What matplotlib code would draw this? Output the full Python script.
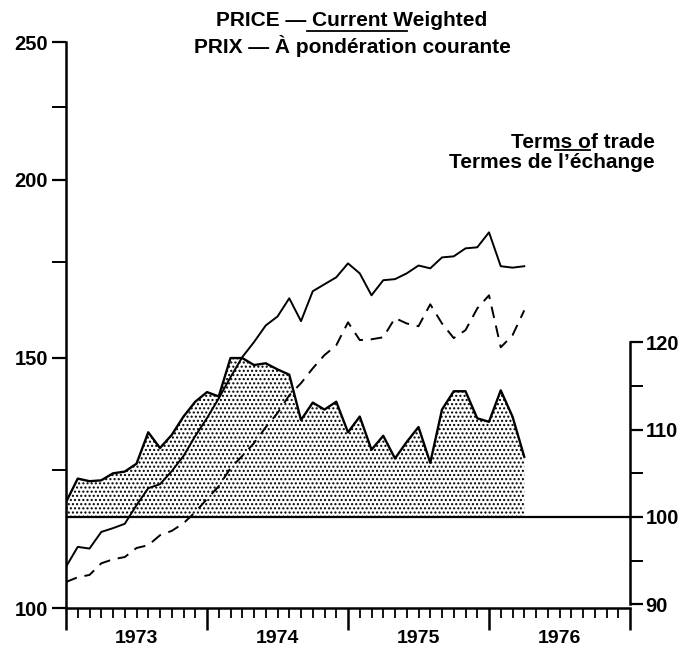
import matplotlib.pyplot as plt
import numpy as np
from matplotlib.ticker import FixedLocator, NullFormatter, FuncFormatter
from matplotlib.lines import Line2D

# monthly, Jan 1973 - Apr 1976
start_year = 1973
n_months = 40

# price index, current weighted (left, log scale)
price_solid = [106.9, 110.4, 110.1, 113.1, 113.8, 114.6, 118.1, 121.4, 122.2, 124.8,
               127.9, 132.1, 136.0, 140.4, 145.3, 150.1, 153.8, 158.0, 160.3, 165.1,
               159.1, 167.0, 168.9, 170.8, 174.7, 171.9, 165.9, 170.0, 170.3, 171.9,
               174.1, 173.3, 176.4, 176.7, 179.0, 179.3, 183.7, 173.9, 173.5, 173.9]

# second price series (dashed)
price_dashed = [104.3, 105.1, 105.5, 107.5, 108.2, 108.6, 110.2, 110.7, 112.5, 113.3,
                114.7, 116.8, 119.3, 121.8, 125.4, 127.9, 130.6, 134.0, 137.1, 141.1,
                143.9, 147.4, 150.6, 153.0, 158.8, 154.3, 154.5, 155.0, 159.9, 158.5,
                157.8, 163.5, 158.5, 154.8, 156.8, 162.4, 165.9, 152.5, 155.5, 161.9]

# terms of trade (right axis)
terms_of_trade = [101.7, 104.4, 104.1, 104.2, 105.0, 105.2, 106.1, 109.7, 107.9, 109.4,
                  111.5, 113.2, 114.3, 113.8, 118.2, 118.2, 117.4, 117.6, 116.9, 116.3,
                  111.1, 113.1, 112.3, 113.2, 109.7, 111.5, 107.7, 109.3, 106.7, 108.6,
                  110.3, 106.2, 112.3, 114.4, 114.4, 111.3, 110.9, 114.5, 111.5, 106.9]

year_labels = ['1973', '1974', '1975', '1976']
left_ticks = [100, 150, 200, 250]
left_minor = [125, 175, 225]
right_ticks = [90, 100, 110, 120]
right_minor = [95, 105, 115]

plt.rcParams['font.family'] = 'Liberation Sans'
plt.rcParams['font.weight'] = 'bold'
plt.rcParams['hatch.linewidth'] = 1.0

x = start_year + np.arange(n_months) / 12

fig = plt.figure(figsize=(6.96, 6.48), dpi=100)
ax = fig.add_axes([66 / 696, 40 / 648, 564 / 696, 566 / 648])
ax2 = ax.twinx()

ax.plot(x, price_solid, color='black', lw=1.4)
ax.plot(x, price_dashed, color='black', lw=1.4, dashes=(6, 4))
ax.set_yscale('log')
ax.set_ylim(100, 250)
ax.set_xlim(1973, 1977)

ax2.fill_between(x, 100, terms_of_trade, facecolor='none', edgecolor='black',
                 hatch='....', linewidth=0)
ax2.plot(x, terms_of_trade, color='black', lw=1.7)
ax2.axhline(100, color='black', lw=1.6)
ax2.set_ylim(89.58, 154.39)

# left axis
ax.yaxis.set_major_locator(FixedLocator(left_ticks))
ax.yaxis.set_minor_locator(FixedLocator(left_minor))
ax.yaxis.set_major_formatter(FuncFormatter(lambda v, p: '%d' % v))
ax.yaxis.set_minor_formatter(NullFormatter())
ax.tick_params(axis='y', which='major', length=10, width=1.6, pad=3, labelsize=14.5)
ax.tick_params(axis='y', which='minor', length=10, width=1.4)

# x axis: year boundaries long, months short
ax.xaxis.set_major_locator(FixedLocator(np.arange(1973, 1978)))
ax.xaxis.set_minor_locator(FixedLocator(1973 + np.arange(49) / 12))
ax.xaxis.set_major_formatter(NullFormatter())
ax.tick_params(axis='x', which='major', length=16, width=1.8)
ax.tick_params(axis='x', which='minor', length=7, width=1.3)
for i, lab in enumerate(year_labels):
    ax.text(1973.5 + i, -0.0625, lab, transform=ax.get_xaxis_transform(),
            ha='center', va='baseline', fontsize=14, fontweight='bold')

# right axis
ax2.yaxis.set_major_locator(FixedLocator(right_ticks))
ax2.yaxis.set_minor_locator(FixedLocator(right_minor))
ax2.yaxis.set_minor_formatter(NullFormatter())
ax2.tick_params(axis='y', which='major', length=9, width=1.6, pad=2, labelsize=14.5)
ax2.tick_params(axis='y', which='minor', length=9, width=1.4)

for a in (ax, ax2):
    for s in a.spines.values():
        s.set_visible(False)
        s.set_linewidth(1.8)
ax.spines['left'].set_visible(True)
ax.spines['bottom'].set_visible(True)
ax2.spines['right'].set_visible(True)
ax2.spines['right'].set_bounds(90, 120)

# titles
fig.text(352 / 696, 1 - 26 / 648, 'PRICE \u2014 Current Weighted', ha='center',
         va='baseline', fontsize=15, fontweight='bold')
fig.text(352 / 696, 1 - 53 / 648, 'PRIX \u2014 \u00c0 pond\u00e9ration courante',
         ha='center', va='baseline', fontsize=15, fontweight='bold')
fig.add_artist(Line2D([307 / 696, 407 / 696], [1 - 31 / 648, 1 - 31 / 648],
                      color='black', lw=1.3))

fig.text(655 / 696, 1 - 148 / 648, 'Terms of trade', ha='right', va='baseline',
         fontsize=15, fontweight='bold')
fig.text(655 / 696, 1 - 168 / 648, 'Termes de l\u2019\u00e9change', ha='right',
         va='baseline', fontsize=15, fontweight='bold')
fig.add_artist(Line2D([555 / 696, 590 / 696], [1 - 150 / 648, 1 - 150 / 648],
                      color='black', lw=1.3))

fig.savefig('out.png', dpi=100)
